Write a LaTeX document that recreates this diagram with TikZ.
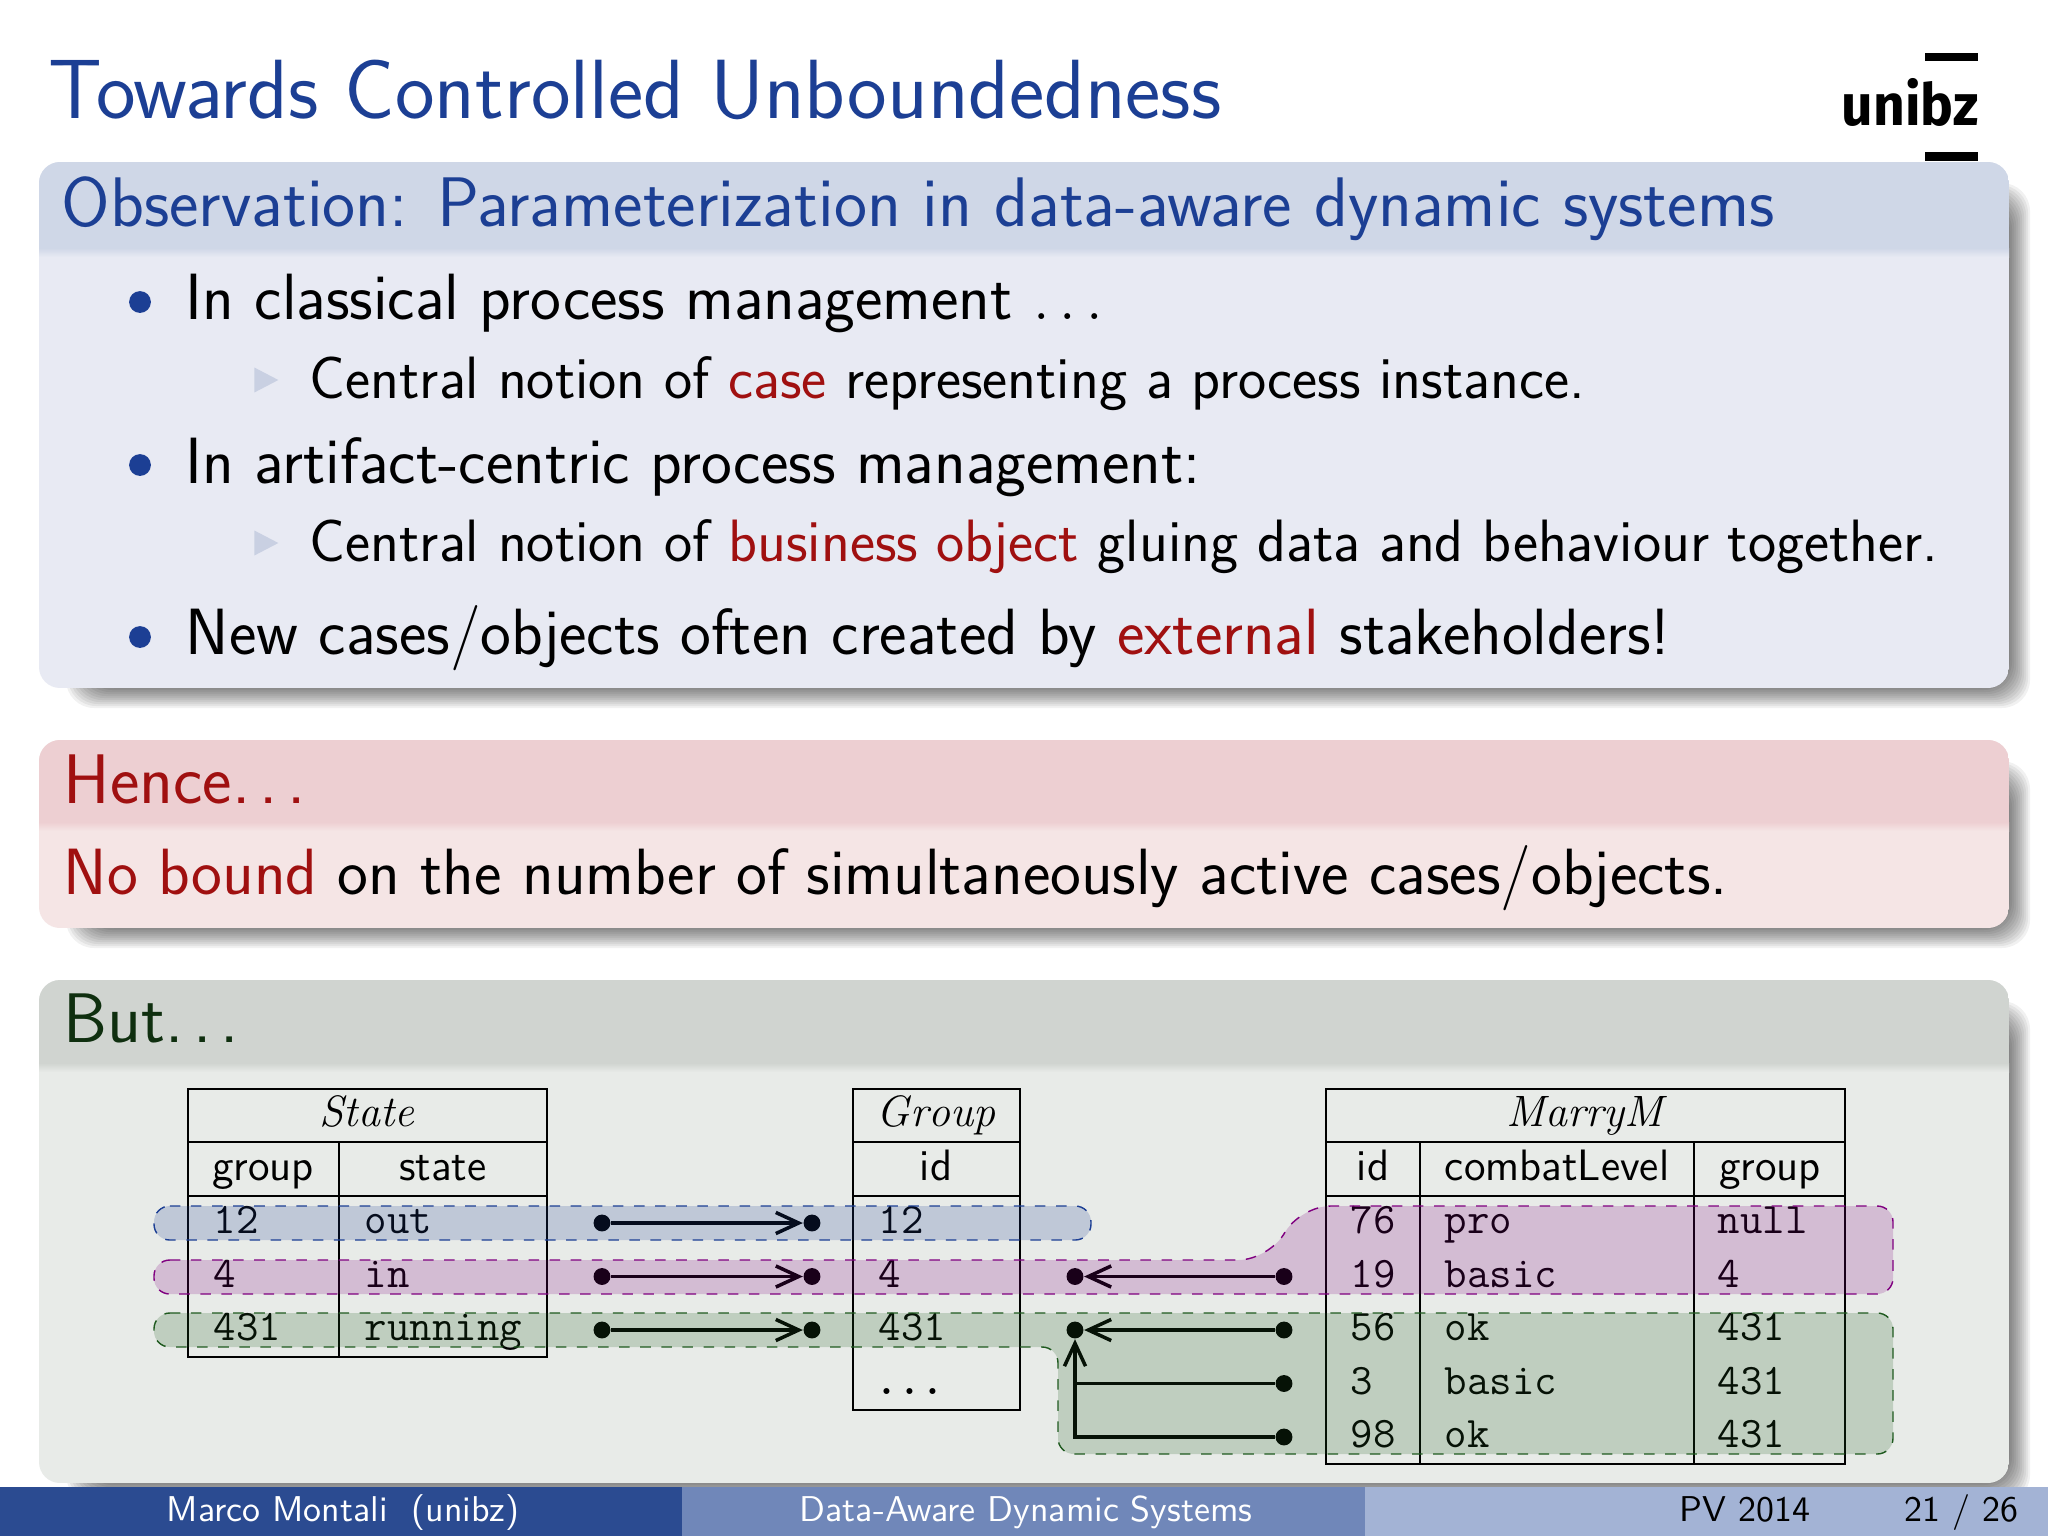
\documentclass[tikz,border=0pt]{standalone}
\usepackage{fontspec}
\newfontfamily\logofont{Fira Sans}
\usetikzlibrary{shapes.geometric, arrows.meta}
\definecolor{titleblue}{HTML}{1C3F94}
\definecolor{alertred}{HTML}{A01010}
\definecolor{exgreen}{HTML}{0F2F0F}
\definecolor{blockhead}{HTML}{CFD7E7}
\definecolor{blockbody}{HTML}{E8EAF3}
\definecolor{alerthead}{HTML}{EDCFD2}
\definecolor{alertbody}{HTML}{F5E5E5}
\definecolor{exhead}{HTML}{D0D4D0}
\definecolor{exbody}{HTML}{E8EBE8}
\definecolor{tribullet}{HTML}{C9D0E2}
\definecolor{foota}{HTML}{2B4B91}
\definecolor{footb}{HTML}{7087B9}
\definecolor{footc}{HTML}{A3B3D5}
\definecolor{hlblue}{HTML}{1C3F94}
\definecolor{hlpurple}{HTML}{800080}
\definecolor{hlgreen}{HTML}{1F5A1F}
\tikzstyle{arrow} = [line width=1pt, ->, >={Straight Barb[length=6.5pt,width=6pt]}]
\tikzstyle{plain} = [line width=1pt]
\tikzstyle{pin} = [circle, fill=black, inner sep=0pt, minimum size=4.8pt]
\tikzstyle{txt} = [anchor=base west, inner sep=0pt]
\tikzstyle{big} = [txt, font=\sffamily\fontsize{23.9}{26}\selectfont]
\tikzstyle{head} = [txt, font=\sffamily\fontsize{19.95}{22}\selectfont]
\tikzstyle{body} = [txt, font=\sffamily\fontsize{18.6}{20}\selectfont]
\tikzstyle{sub} = [txt, font=\sffamily\fontsize{17}{18}\selectfont]
\tikzstyle{foot} = [txt, font=\sffamily\fontsize{10.2}{13}\selectfont]
\tikzstyle{bullet} = [circle, fill=titleblue, inner sep=0pt, minimum size=6.2pt]
\tikzstyle{tri} = [isosceles triangle, isosceles triangle apex angle=55, fill=tribullet, inner sep=0pt, minimum height=6.8pt]
\tikzstyle{colname} = [anchor=base, inner sep=0pt, font=\sffamily\fontsize{12.5}{15}\selectfont]
\tikzstyle{relname} = [anchor=base, inner sep=0pt, font=\fontsize{12.5}{15}\selectfont]
\tikzstyle{cell} = [inner sep=0pt, text width=2cm, align=left, text height=8pt, text depth=3pt, font=\ttfamily\fontsize{12.4}{15}\selectfont]
\tikzstyle{tline} = [line width=0.4pt]
\tikzstyle{band} = [dashed, line width=0.4pt, rounded corners=4.5pt, fill opacity=0.2]
\newcommand{\spaceddots}{.\kern.135em.\kern.135em.}
\newcommand{\panel}[5]{
	\foreach \d in {0,2,...,20} {
		\fill[black, opacity=0.055, rounded corners=8pt] ({66+\d},{#1+21+\d}) rectangle ({2030-\d},{#3+20-\d});
	}
	\begin{scope}
		\clip[rounded corners=6pt] (39,#1) rectangle (2009,#3);
		\fill[#5] (39,#1) rectangle (2009,#3);
		\shade[top color=#4, bottom color=#5] (39,#2) rectangle (2009,{#2+9});
		\fill[#4] (39,#1) rectangle (2009,#2);
	\end{scope}
}
\begin{document}
\begin{tikzpicture}[x=0.01cm, y=-0.01cm, node distance=53.5*0.01cm]
		\useasboundingbox (0,0) rectangle (2048,1536);
		\fill[white] (0,0) rectangle (2048,1536);
		\node(title) [big] at (48,118) {\textcolor{titleblue}{Towards Controlled Unboundedness}};
		% blocks
		\panel{162}{248}{688}{blockhead}{blockbody}
		\panel{740}{822}{928}{alerthead}{alertbody}
		\panel{980}{1063}{1483}{exhead}{exbody}
		% logo
		\fill[black] (1925,53) rectangle (1978,61);
		\fill[black] (1925,152) rectangle (1978,161);
		\node(logo) [anchor=base east, inner sep=0pt, font=\logofont\bfseries\fontsize{16.5}{20}\selectfont] at (1979,125) {\scalebox{0.95}[1]{unibz}};
		% first block
		\node(obs) [head] at (61,226) {\textcolor{titleblue}{Observation: Parameterization in data-aware dynamic systems}};
		\node(bul1) [bullet] at (140,302) {};
		\node(item1) [body] at (185,319) {In classical process management $\ldots$};
		\node(tri1) [tri] at (262,380) {};
		\node(sub1) [sub] at (309,398) {Central notion of \textcolor{alertred}{case} representing a process instance.};
		\node(bul2) [bullet] at (140,465) {};
		\node(item2) [body] at (185,483) {In artifact-centric process management:};
		\node(tri2) [tri] at (262,543) {};
		\node(sub2) [sub] at (309,561) {Central notion of \textcolor{alertred}{business object} gluing data and behaviour together.};
		\node(bul3) [bullet] at (140,637) {};
		\node(item3) [body] at (185,654) {New cases/objects often created by \textcolor{alertred}{external} stakeholders!};
		% second block
		\node(hence) [head] at (63,803) {\textcolor{alertred}{Hence\spaceddots}};
		\node(bound) [body] at (63,894) {\textcolor{alertred}{No bound} on the number of simultaneously active cases/objects.};
		% third block
		\node(but) [head] at (63,1042) {\textcolor{exgreen}{But\spaceddots}};
		% State table
		\draw[tline] (188,1089) rectangle (547,1357);
		\draw[tline] (188,1142) -- (547,1142);
		\draw[tline] (188,1196) -- (547,1196);
		\draw[tline] (339,1142) -- (339,1357);
		\node(state) [relname] at (367,1126) {$\mathit{State}$};
		\node(sgroup) [colname] at (263,1180) {group};
		\node(sstate) [colname] at (443,1180) {state};
		\node(s1) [cell] at (314,1225) {12};
		\node(s2) [cell, below of=s1] {4};
		\node(s3) [cell, below of=s2] {431};
		\node(t1) [cell] at (465,1225) {out};
		\node(t2) [cell, below of=t1] {in};
		\node(t3) [cell, below of=t2] {running};
		% Group table
		\draw[tline] (853,1089) rectangle (1020,1410);
		\draw[tline] (853,1142) -- (1020,1142);
		\draw[tline] (853,1196) -- (1020,1196);
		\node(group) [relname] at (936,1126) {$\mathit{Group}$};
		\node(gid) [colname] at (936,1180) {id};
		\node(g1) [cell] at (979,1225) {12};
		\node(g2) [cell, below of=g1] {4};
		\node(g3) [cell, below of=g2] {431};
		\node(g4) [cell, below of=g3] {\hspace*{-1pt}\bfseries ...};
		% MarryM table
		\draw[tline] (1326,1089) rectangle (1845,1464);
		\draw[tline] (1326,1142) -- (1845,1142);
		\draw[tline] (1326,1196) -- (1845,1196);
		\draw[tline] (1420,1142) -- (1420,1464);
		\draw[tline] (1694,1142) -- (1694,1464);
		\node(marry) [relname] at (1585,1126) {$\mathit{MarryM}$};
		\node(mid) [colname] at (1373,1180) {id};
		\node(mlevel) [colname] at (1557,1180) {combatLevel};
		\node(mgroup) [colname] at (1770,1180) {group};
		\node(m1) [cell] at (1451,1225) {76};
		\node(m2) [cell, below of=m1] {19};
		\node(m3) [cell, below of=m2] {56};
		\node(m4) [cell, below of=m3] {3};
		\node(m5) [cell, below of=m4] {98};
		\node(l1) [cell] at (1545,1225) {pro};
		\node(l2) [cell, below of=l1] {basic};
		\node(l3) [cell, below of=l2] {ok};
		\node(l4) [cell, below of=l3] {basic};
		\node(l5) [cell, below of=l4] {ok};
		\node(f1) [cell] at (1818,1225) {null};
		\node(f2) [cell, below of=f1] {4};
		\node(f3) [cell, below of=f2] {431};
		\node(f4) [cell, below of=f3] {431};
		\node(f5) [cell, below of=f4] {431};
		% foreign keys
		\node(a1) [pin] at (602,1223) {};
		\node(a2) [pin, below of=a1] {};
		\node(a3) [pin, below of=a2] {};
		\node(b1) [pin] at (812,1223) {};
		\node(b2) [pin, below of=b1] {};
		\node(b3) [pin, below of=b2] {};
		\node(c2) [pin] at (1075,1276.5) {};
		\node(c3) [pin, below of=c2] {};
		\node(d2) [pin] at (1284,1276.5) {};
		\node(d3) [pin, below of=d2] {};
		\node(d4) [pin, below of=d3] {};
		\node(d5) [pin, below of=d4] {};
		\draw [arrow] (a1) -- (b1);
		\draw [arrow] (a2) -- (b2);
		\draw [arrow] (a3) -- (b3);
		\draw [arrow] (d2) -- (c2);
		\draw [arrow] (d3) -- (c3);
		\draw [plain] (d4) -- (d4 -| c3);
		\draw [arrow] (d5) -| (c3);
		% highlighted rows
		\draw[band, draw=hlblue, fill=hlblue] (154,1206) -- (1091,1206) -- (1091,1240) -- (154,1240) -- cycle;
		\draw[band, draw=hlpurple, fill=hlpurple] (154,1260) [rounded corners=9pt] -- (1270,1260) -- (1299,1206) [rounded corners=4.5pt] -- (1893,1206) -- (1893,1294) -- (154,1294) -- cycle;
		\draw[band, draw=hlgreen, fill=hlgreen] (154,1313) -- (1893,1313) -- (1893,1454) -- (1058,1454) -- (1058,1347) -- (154,1347) -- cycle;
		% footer
		\fill[foota] (0,1487) rectangle (682,1536);
		\fill[footb] (682,1487) rectangle (1365,1536);
		\fill[footc] (1365,1487) rectangle (2048,1536);
		\node(author) [foot, text=white] at (166,1521) {Marco Montali\ \ (unibz)};
		\node(talk) [foot, text=white] at (799,1521) {Data-Aware Dynamic Systems};
		\node(venue) [foot] at (1679,1521) {PV 2014};
		\node(page) [foot] at (1904,1521) {21 / 26};
	\end{tikzpicture}
\end{document}
